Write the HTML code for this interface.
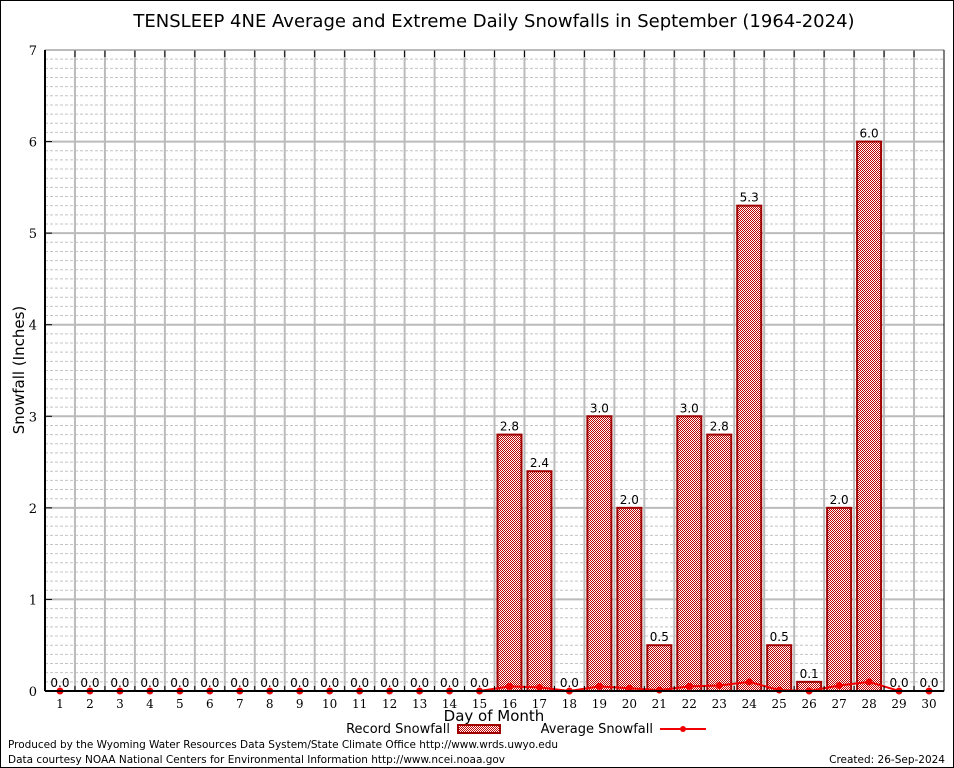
<!DOCTYPE html>
<html><head><meta charset="utf-8"><style>
html,body{margin:0;padding:0;background:#fff}
svg{display:block}
text{font-family:"DejaVu Sans","Liberation Sans",sans-serif}
.ser{font-family:"DejaVu Serif","Liberation Serif",serif}
</style></head><body>
<svg id="chart" width="954" height="768" viewBox="0 0 954 768">
<defs>
<pattern id="chk" width="2" height="2" patternUnits="userSpaceOnUse">
<rect width="2" height="2" fill="#fff"/><rect width="1" height="1" fill="#c00000"/><rect x="1" y="1" width="1" height="1" fill="#c00000"/>
</pattern>
</defs>
<rect x="0.5" y="0.5" width="953" height="767" fill="#fff" stroke="#000"/>
<text x="494" y="27" font-size="18" text-anchor="middle">TENSLEEP 4NE Average and Extreme Daily Snowfalls in September (1964-2024)</text>
<g id="grid"></g>
<g id="bars"></g>
<g id="avg"></g>
<g id="axes"></g>
<text transform="translate(24,370) rotate(-90)" font-size="15" text-anchor="middle">Snowfall (Inches)</text>
<text x="494" y="721" font-size="15" text-anchor="middle">Day of Month</text>
<g>
<text x="450" y="733" font-size="13" text-anchor="end">Record Snowfall</text>
<rect x="458" y="725" width="42" height="8" fill="url(#chk)" stroke="#a00000" stroke-width="2"/>
<text x="653" y="733" font-size="13" text-anchor="end">Average Snowfall</text>
<line x1="660" y1="729" x2="706" y2="729" stroke="#f00000" stroke-width="2"/>
<circle cx="683" cy="729" r="3" fill="#f00000"/>
</g>
<text x="8" y="748" font-size="10.5" textLength="550">Produced by the Wyoming Water Resources Data System/State Climate Office http://www.wrds.uwyo.edu</text>
<text x="8" y="763" font-size="10.5" textLength="497">Data courtesy NOAA National Centers for Environmental Information http://www.ncei.noaa.gov</text>
<text x="945" y="763" font-size="10.5" text-anchor="end">Created: 26-Sep-2024</text>
</svg>
<script>
const days=[1,2,3,4,5,6,7,8,9,10,11,12,13,14,15,16,17,18,19,20,21,22,23,24,25,26,27,28,29,30];
const recordSnow=[0,0,0,0,0,0,0,0,0,0,0,0,0,0,0,2.8,2.4,0,3.0,2.0,0.5,3.0,2.8,5.3,0.5,0.1,2.0,6.0,0,0];
const avgSnow=[0,0,0,0,0,0,0,0,0,0,0,0,0,0,0,0.05,0.04,0,0.05,0.03,0.01,0.05,0.06,0.1,0.01,0,0.06,0.1,0,0];
const yTicks=[0,1,2,3,4,5,6,7];
const NS="http://www.w3.org/2000/svg";
const L=45,R=944,T=50,B=691,yMax=7;
const x=d=>L+(d-0.5)*(R-L)/30;
const y=v=>B-v*(B-T)/yMax;
function mk(tag,attrs,parent){const e=document.createElementNS(NS,tag);for(const k in attrs)e.setAttribute(k,attrs[k]);parent.appendChild(e);return e;}
const grid=document.getElementById('grid'),bars=document.getElementById('bars'),avg=document.getElementById('avg'),axes=document.getElementById('axes');
for(let i=1;i<yMax*10;i++){if(i%10===0)continue;const l=mk('line',{x1:L,x2:R,y1:y(i/10),y2:y(i/10),stroke:'#c4c4c4','stroke-dasharray':'3,2','stroke-width':1},grid);

}
yTicks.forEach(t=>{const l=mk('line',{x1:L,x2:R,y1:y(t),y2:y(t),stroke:'#bbb','stroke-width':2},grid);


const tx=mk('text',{x:L-8,y:y(t)+5,'font-size':13,'text-anchor':'end',class:'ser'},axes);tx.textContent=t;


mk('line',{x1:L,x2:L+7,y1:y(t),y2:y(t),stroke:'#000','stroke-width':1},axes);});
for(let d=1;d<30;d++){const l=mk('line',{x1:x(d+0.5),x2:x(d+0.5),y1:T,y2:B,stroke:'#bbb','stroke-width':2},grid);


mk('line',{x1:x(d+0.5),x2:x(d+0.5),y1:T,y2:T+7,stroke:'#000'},axes);
mk('line',{x1:x(d+0.5),x2:x(d+0.5),y1:B,y2:B-5,stroke:'#000'},axes);}
days.forEach((d,i)=>{const v=recordSnow[i];
if(v>0){const r=mk('rect',{x:x(d)-12,y:y(v),width:24,height:B-y(v),fill:'url(#chk)',stroke:'#a00000','stroke-width':2},bars);

}
const lb=mk('text',{x:x(d),y:y(v)-4,'font-size':12,'text-anchor':'middle'},bars);lb.textContent=v.toFixed(1);


const xl=mk('text',{x:x(d),y:B+17,'font-size':12,'text-anchor':'middle',class:'ser'},axes);xl.textContent=d;

});
const pl=mk('polyline',{points:days.map((d,i)=>x(d)+','+y(avgSnow[i])).join(' '),fill:'none',stroke:'#f00000','stroke-width':2},avg);


days.forEach((d,i)=>{const c=mk('circle',{cx:x(d),cy:y(avgSnow[i]),r:3.5,fill:'#f00000'},avg);

});
const fr=mk('rect',{x:L,y:T,width:R-L,height:B-T,fill:'none',stroke:'#bbb','stroke-width':1},axes);


mk('line',{x1:L,x2:L,y1:T,y2:B,stroke:'#000','stroke-width':2},axes);
mk('line',{x1:L,x2:R,y1:B,y2:B,stroke:'#000','stroke-width':2},axes);
mk('line',{x1:R,x2:R,y1:T,y2:B,stroke:'#000','stroke-width':1},axes);
</script>
</body></html>
